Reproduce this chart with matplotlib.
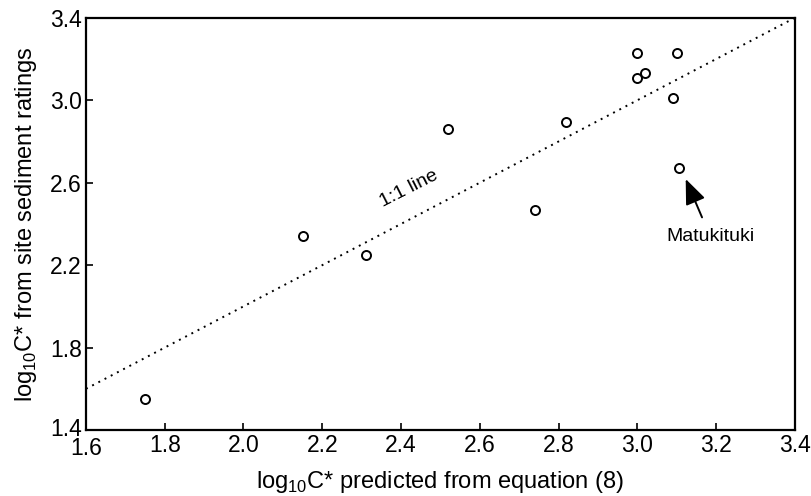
import matplotlib
matplotlib.use("Agg")
from matplotlib import pyplot as plt
from matplotlib.transforms import ScaledTranslation
import numpy as np

plt.rcParams['font.family'] = ['Liberation Sans', 'DejaVu Sans']

# predicted vs observed log10 C*
predicted = [1.75, 2.15, 2.31, 2.52, 2.74, 2.82, 3.00, 3.00, 3.02, 3.09, 3.10, 3.105]
observed = [1.55, 2.34, 2.25, 2.86, 2.47, 2.895, 3.23, 3.11, 3.13, 3.01, 3.23, 2.67]
one_to_one = [1.6, 3.4]

x_ticks = [1.6, 1.8, 2.0, 2.2, 2.4, 2.6, 2.8, 3.0, 3.2, 3.4]
y_ticks = [1.4, 1.8, 2.2, 2.6, 3.0, 3.4]

fig = plt.figure(figsize=(8.11, 4.96), dpi=100)
ax = fig.add_axes([0.106, 0.133, 0.874, 0.831])

# 1:1 line
ax.plot(one_to_one, one_to_one, linestyle=(0, (1, 2.6)), color='black', linewidth=1.4)
# the data points
ax.plot(predicted, observed, 'o', markerfacecolor='white', markeredgecolor='black',
        markersize=6.5, markeredgewidth=1.4)

ax.text(2.42, 2.57, "1:1 line", rotation=27, ha='center', va='center', fontsize=14)
ax.annotate("Matukituki", xy=(3.123, 2.618), xytext=(3.185, 2.34),
            ha='center', va='center', fontsize=14,
            arrowprops=dict(arrowstyle='-|>,head_length=1.1,head_width=0.45',
                            color='black', linewidth=1.4, shrinkA=6, shrinkB=0))

ax.set_xlim(1.6, 3.4)
ax.set_ylim(1.4, 3.4)
ax.set_xticks(x_ticks)
ax.set_yticks(y_ticks)
ax.set_xticklabels(["%.1f" % t for t in x_ticks])
ax.set_yticklabels(["%.1f" % t for t in y_ticks])
ax.tick_params(direction='in', length=5, width=1.2, labelsize=16.5, pad=3)
for side in ax.spines.values():
    side.set_linewidth(1.6)

# keep the corner labels 1.4 and 1.6 apart, as in the original
first = ax.get_xticklabels()[0]
first.set_transform(first.get_transform() + ScaledTranslation(0, -3 / 100, fig.dpi_scale_trans))
low = ax.get_yticklabels()[0]
low.set_transform(low.get_transform() + ScaledTranslation(0, 3 / 100, fig.dpi_scale_trans))

ax.set_xlabel(r"log$_{\mathregular{10}}$C* predicted from equation (8)", fontsize=17, labelpad=6)
ax.set_ylabel(r"log$_{\mathregular{10}}$C* from site sediment ratings", fontsize=17, labelpad=8)

plt.savefig("out.png", dpi=100)
